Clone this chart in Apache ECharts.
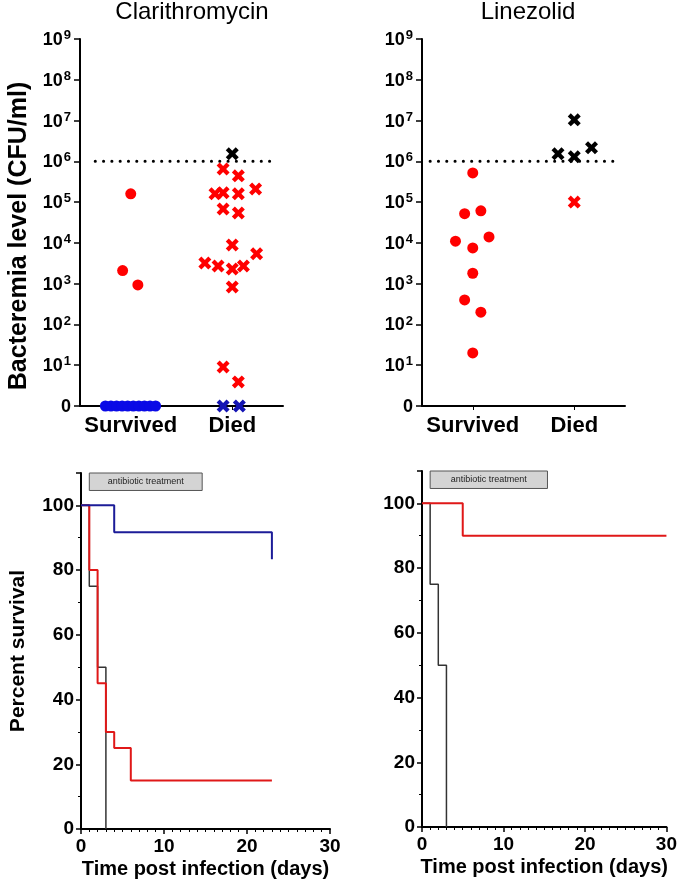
<!DOCTYPE html>
<html>
<head>
<meta charset="utf-8">
<script src="https://cdn.jsdelivr.net/npm/echarts@6/dist/echarts.min.js"></script>
<style>html,body{margin:0;padding:0;background:#fff}#c{width:680px;height:881px}</style>
</head>
<body>
<div id="c"></div>
<script>
// ---------- DATA ----------
const panelTitles = ['Clarithromycin', 'Linezolid'];
const scatterCategories = ['Survived', 'Died'];
const bacteremiaThreshold = 1e6;
const thresholdSpanCla = [0.15, 1.93];
const thresholdSpanLin = [0.08, 1.94];

// Clarithromycin – values (CFU/ml), jitter (offset within category)
const claSurvivedRed = [1.6e5, 2.1e3, 930];
const claSurvivedRedJitter = [0, -0.08, 0.07];
const claSurvivedBlue = [0, 0, 0, 0, 0, 0, 0, 0, 0, 0];
const claSurvivedBlueJitter = [-0.25, -0.195, -0.14, -0.085, -0.03, 0.025, 0.08, 0.135, 0.19, 0.245];
const claDiedRed = [6.5e5, 4.4e5, 2.1e5, 1.6e5, 1.7e5, 1.6e5, 6.8e4, 5.4e4, 8.9e3, 5.4e3, 3.2e3, 2.7e3, 2.3e3, 2.7e3, 830, 9, 3.9];
const claDiedRedJitter = [-0.09, 0.06, 0.23, -0.17, -0.09, 0.06, -0.09, 0.06, 0, 0.24, -0.27, -0.14, 0, 0.11, 0, -0.09, 0.06];
const claDiedBlack = [1.53e6];
const claDiedBlackJitter = [0];
const claDiedBlue = [0, 0];
const claDiedBlueJitter = [-0.09, 0.07];

// Linezolid
const linSurvivedRed = [5.2e5, 5.2e4, 6.1e4, 1.1e4, 1.4e4, 7.5e3, 1.8e3, 400, 200, 20];
const linSurvivedRedJitter = [0, -0.08, 0.08, -0.17, 0.16, 0, 0, -0.08, 0.08, 0];
const linDiedBlack = [1.04e7, 1.53e6, 1.29e6, 2.15e6];
const linDiedBlackJitter = [0, -0.16, 0, 0.17];
const linDiedRed = [1e5];
const linDiedRedJitter = [0];

// Survival curves (day, percent)
const kmClaBlueDays = [0, 4, 23];
const kmClaBlue = [100, 91.67, 83.33];
const kmClaRedDays = [0, 1, 2, 3, 4, 6, 23];
const kmClaRed = [100, 80, 45, 30, 25, 15, 15];
const kmClaBlackDays = [0, 1, 2, 3];
const kmClaBlack = [100, 75, 50, 0];
const kmLinRedDays = [0, 5, 30];
const kmLinRed = [100, 90, 90];
const kmLinBlackDays = [0, 1, 2, 3];
const kmLinBlack = [100, 75, 50, 0];
const treatmentLabel = 'antibiotic treatment';
const treatmentCla = [1, 14.6];
const treatmentLin = [1, 15.4];
const treatmentBand = [104.6, 110];

// ---------- STYLE ----------
const FONT = 'Liberation Sans, Arial, sans-serif';
const RED = '#ff0000';
const BLUE_DOT = '#0a0ae6';
const BLUE_X = '#1414b4';
const X_PATH = 'path://M-3,-1.6L-1.6,-3L0,-1.4L1.6,-3L3,-1.6L1.4,0L3,1.6L1.6,3L0,1.4L-1.6,3L-3,1.6L-1.4,0Z';
const ZERO_POS = 1; // "0" is drawn at the bottom of the log axis

function pts(cat, vals, jit) {
  return vals.map((v, i) => [cat + 0.5 + jit[i], v === 0 ? ZERO_POS : v]);
}
function steps(days, vals) { return days.map((d, i) => [d, vals[i]]); }

function scatter(xi, yi, data, color, isX) {
  return {
    type: 'scatter', xAxisIndex: xi, yAxisIndex: yi, data: data,
    symbol: isX ? X_PATH : 'circle', symbolSize: isX ? 13 : 11,
    itemStyle: { color: color, opacity: 1 }, z: 5, silent: true
  };
}
function threshold(xi, yi, span) {
  return {
    type: 'line', xAxisIndex: xi, yAxisIndex: yi, symbol: 'none', silent: true,
    data: [[span[0], bacteremiaThreshold], [span[1], bacteremiaThreshold]],
    lineStyle: { color: '#000', width: 3, type: [0.1, 8.2], cap: 'round' }, z: 3
  };
}
function km(xi, yi, data, color, width, z, extra) {
  return Object.assign({
    type: 'line', step: 'end', xAxisIndex: xi, yAxisIndex: yi, data: data,
    symbol: 'none', silent: true, lineStyle: { color: color, width: width }, z: z
  }, extra || {});
}
function treatment(span) {
  return {
    silent: true,
    itemStyle: { color: '#d4d4d4', borderColor: '#555', borderWidth: 1 },
    label: { show: true, position: 'inside', color: '#222', fontSize: 9, fontFamily: FONT },
    data: [[{ name: treatmentLabel, coord: [span[0], treatmentBand[0]] }, { coord: [span[1], treatmentBand[1]] }]]
  };
}

const axisLine = { show: true, lineStyle: { color: '#000', width: 2 } };
function catAxis(gi) {
  return {
    type: 'category', gridIndex: gi, data: scatterCategories, boundaryGap: true,
    axisLine: axisLine, axisTick: { show: true, alignWithLabel: true, length: 4, lineStyle: { color: '#000', width: 1 } },
    axisLabel: { interval: 0, color: '#000', fontSize: 22, fontWeight: 'bold', fontFamily: FONT, margin: 9 },
    splitLine: { show: false }
  };
}
function hiddenX(gi) {
  return { type: 'value', gridIndex: gi, min: 0, max: 2, show: false, splitLine: { show: false } };
}
function logAxis(gi, name) {
  return {
    type: 'log', gridIndex: gi, logBase: 10, min: 1, max: 1e9, splitNumber: 9, position: 'left',
    name: name, nameLocation: 'middle', nameGap: 48,
    nameTextStyle: { color: '#000', fontSize: 25, fontWeight: 'bold', fontFamily: FONT, padding: [0, 27, 0, 0] },
    axisLine: axisLine,
    axisTick: { show: true, length: 6, lineStyle: { color: '#000', width: 1.5 } },
    splitLine: { show: false },
    axisLabel: {
      margin: 9, color: '#000', fontFamily: FONT,
      formatter: function (v) {
        if (v <= ZERO_POS) return '{b|0}';
        return '{b|10}{s|' + Math.round(Math.log10(v)) + '}';
      },
      rich: {
        b: { fontSize: 18, fontWeight: 'bold', fontFamily: FONT, color: '#000', lineHeight: 20, verticalAlign: 'bottom' },
        s: { fontSize: 13, fontWeight: 'bold', fontFamily: FONT, color: '#000', lineHeight: 13, verticalAlign: 'top', padding: [0, 0, 0, 1] }
      }
    }
  };
}
function daysAxis(gi, name) {
  return {
    type: 'value', gridIndex: gi, min: 0, max: 30, interval: 10,
    name: name, nameLocation: 'middle', nameGap: 30,
    nameTextStyle: { color: '#000', fontSize: 20, fontWeight: 'bold', fontFamily: FONT },
    axisLine: axisLine,
    axisTick: { show: true, length: 5, lineStyle: { color: '#000', width: 1.5 } },
    minorTick: { show: true, splitNumber: 10, length: 3, lineStyle: { color: '#000', width: 1 } },
    splitLine: { show: false },
    axisLabel: { color: '#000', fontSize: 19, fontWeight: 'bold', fontFamily: FONT, margin: 8 }
  };
}
function pctAxis(gi, name) {
  return {
    type: 'value', gridIndex: gi, min: 0, max: 110, interval: 20,
    name: name, nameLocation: 'middle', nameGap: 52,
    nameTextStyle: { color: '#000', fontSize: 21, fontWeight: 'bold', fontFamily: FONT },
    axisLine: axisLine,
    axisTick: { show: true, length: 5, lineStyle: { color: '#000', width: 1.5 } },
    minorTick: { show: true, splitNumber: 2, length: 3, lineStyle: { color: '#000', width: 1 } },
    splitLine: { show: false },
    axisLabel: {
      color: '#000', fontSize: 19, fontWeight: 'bold', fontFamily: FONT, margin: 7,
      formatter: function (v) { return v > 100 ? '' : String(v); }
    }
  };
}

const option = {
  animation: false,
  backgroundColor: '#fff',
  title: [
    { text: panelTitles[0], left: 192, top: 0, textAlign: 'center', padding: 0,
      textStyle: { fontSize: 24, fontWeight: 'normal', color: '#000', fontFamily: FONT } },
    { text: panelTitles[1], left: 528, top: 0, textAlign: 'center', padding: 0,
      textStyle: { fontSize: 24, fontWeight: 'normal', color: '#000', fontFamily: FONT } }
  ],
  grid: [
    { left: 80, top: 39, width: 203, height: 367 },
    { left: 422, top: 39, width: 203, height: 367 },
    { left: 81, top: 473, width: 249, height: 356 },
    { left: 422, top: 471, width: 249, height: 356 }
  ],
  xAxis: [
    catAxis(0), hiddenX(0), catAxis(1), hiddenX(1),
    daysAxis(2, 'Time post infection (days)'), daysAxis(3, 'Time post infection (days)')
  ],
  yAxis: [
    logAxis(0, 'Bacteremia level (CFU/ml)'), logAxis(1, ''),
    pctAxis(2, 'Percent survival'), pctAxis(3, '')
  ],
  series: [
    threshold(1, 0, thresholdSpanCla),
    scatter(1, 0, pts(0, claSurvivedRed, claSurvivedRedJitter), RED, false),
    scatter(1, 0, pts(0, claSurvivedBlue, claSurvivedBlueJitter), BLUE_DOT, false),
    scatter(1, 0, pts(1, claDiedRed, claDiedRedJitter), RED, true),
    scatter(1, 0, pts(1, claDiedBlack, claDiedBlackJitter), '#000', true),
    scatter(1, 0, pts(1, claDiedBlue, claDiedBlueJitter), BLUE_X, true),

    threshold(3, 1, thresholdSpanLin),
    scatter(3, 1, pts(0, linSurvivedRed, linSurvivedRedJitter), RED, false),
    scatter(3, 1, pts(1, linDiedBlack, linDiedBlackJitter), '#000', true),
    scatter(3, 1, pts(1, linDiedRed, linDiedRedJitter), RED, true),

    km(4, 2, steps(kmClaBlackDays, kmClaBlack), '#333', 1.5, 2, { markArea: treatment(treatmentCla) }),
    km(4, 2, steps(kmClaRedDays, kmClaRed), '#e01818', 2, 3),
    km(4, 2, steps(kmClaBlueDays, kmClaBlue), '#1c1c98', 2, 4),

    km(5, 3, steps(kmLinBlackDays, kmLinBlack), '#333', 1.5, 2, { markArea: treatment(treatmentLin) }),
    km(5, 3, steps(kmLinRedDays, kmLinRed), '#e01818', 2, 3)
  ]
};

const chart = echarts.init(document.getElementById('c'), null, { renderer: 'canvas' });
chart.setOption(option);
</script>
</body>
</html>
